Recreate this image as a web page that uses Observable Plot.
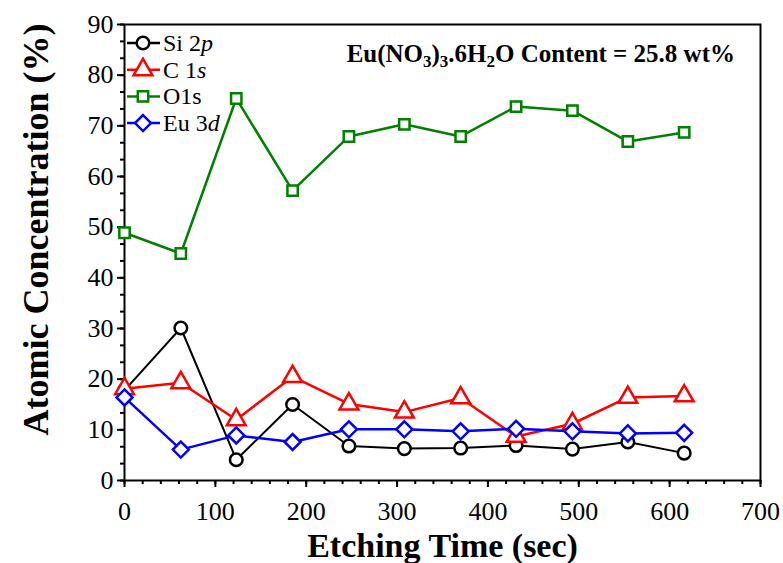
<!DOCTYPE html>
<html>
<head>
<meta charset="utf-8">
<script src="https://cdn.jsdelivr.net/npm/d3@7"></script>
<script src="https://cdn.jsdelivr.net/npm/@observablehq/plot@0.6"></script>
<style>
  html, body { margin: 0; padding: 0; background: #fff; }
  #chart svg, #chart svg text, #chart svg tspan { font-family: "Liberation Serif", "Times New Roman", serif !important; }
</style>
</head>
<body>
<div id="chart"></div>
<script>
// ---- data ----
const times = [0, 62, 123, 185, 247, 308, 370, 431, 493, 554, 616];
const si2p  = [17.8, 30.1, 4.1, 15.0, 6.8, 6.3, 6.4, 6.9, 6.2, 7.6, 5.4];
const c1s   = [18.1, 19.3, 12.0, 20.5, 15.1, 13.5, 16.3, 8.7, 11.2, 16.4, 16.7];
const o1s   = [48.9, 44.8, 75.4, 57.2, 67.9, 70.3, 67.9, 73.8, 73.0, 66.9, 68.7];
const eu3d  = [16.4, 6.1, 8.9, 7.6, 10.1, 10.1, 9.7, 10.2, 9.7, 9.3, 9.4];

const seriesNames  = ["Si 2p", "C 1s", "O1s", "Eu 3d"];
const seriesLabel  = [["Si 2", "p"], ["C 1", "s"], ["O1s", ""], ["Eu 3", "d"]];
const seriesColors = ["#000000", "#ff0000", "#008000", "#0000ff"];
const seriesSymbols = ["circle", "triangle", "square2", "diamond2"];
const seriesR = [6.3, 7.0, 6.6, 7.2];
const seriesValues = [si2p, c1s, o1s, eu3d];

const xMajor = [0, 100, 200, 300, 400, 500, 600, 700];
const yMajor = [0, 10, 20, 30, 40, 50, 60, 70, 80, 90];
const xMinor = d3.range(0, 700.1, 20);
const yMinor = d3.range(0, 90.01, 10 / 3);

const xTitle = "Etching Time (sec)";
const yTitle = "Atomic Concentration (%)";

const rows = [];
seriesNames.forEach((name, i) => {
  times.forEach((t, j) => rows.push({series: name, time: t, value: seriesValues[i][j]}));
});

const marks = [];
seriesNames.forEach((name, i) => {
  const d = rows.filter(r => r.series === name);
  marks.push(Plot.line(d, {x: "time", y: "value", stroke: seriesColors[i], strokeWidth: i === 0 ? 2 : 2.5}));
  marks.push(Plot.dot(d, {x: "time", y: "value", stroke: seriesColors[i], fill: "white",
    strokeWidth: 2.5, symbol: () => seriesSymbols[i], r: seriesR[i]}));
});

const chart = Plot.plot({
  width: 783,
  height: 563,
  marginLeft: 124,
  marginRight: 23,
  marginTop: 24,
  marginBottom: 83,
  style: {background: "white", fontFamily: "Liberation Serif"},
  x: {domain: [0, 700]},
  y: {domain: [0, 90]},
  marks: [
    Plot.axisX({ticks: xMinor, tickSize: 4, strokeWidth: 2, tickFormat: () => "", label: null}),
    Plot.axisX({ticks: xMajor, tickSize: 7, strokeWidth: 2, tickPadding: 14, fontSize: 26, tickFormat: d => String(d), label: null, fill: "black"}),
    Plot.axisY({ticks: yMinor, tickSize: 4, strokeWidth: 2, tickFormat: () => "", label: null}),
    Plot.axisY({ticks: yMajor, tickSize: 7, strokeWidth: 2, tickPadding: 4, fontSize: 26, tickFormat: d => String(d), label: null, fill: "black"}),
    Plot.frame({stroke: "black", strokeWidth: 2}),
    ...marks,
    Plot.text([xTitle], {frameAnchor: "bottom", dy: 66, lineAnchor: "middle", fontSize: 34, fontWeight: "bold", fill: "black", textAnchor: "middle"}),
    Plot.text([yTitle], {frameAnchor: "left", rotate: -90, dx: -88, dy: -23, lineAnchor: "middle", fontSize: 36, fontWeight: "bold", fill: "black", textAnchor: "middle"})
  ]
});
document.getElementById("chart").appendChild(chart);

// ---- legend and annotation (inside the plot area) ----
const svg = d3.select(chart);
const sx = chart.scale("x"), sy = chart.scale("y");
const leftPx = sx.apply(0), topPx = sy.apply(90);
const symMap = {circle: d3.symbolCircle, triangle: d3.symbolTriangle, square2: d3.symbolSquare2, diamond2: d3.symbolDiamond2};
const leg = svg.append("g").attr("text-anchor", "start");
seriesNames.forEach((name, i) => {
  const yy = topPx + 19 + i * 26.7;
  const g = leg.append("g");
  g.append("line").attr("x1", leftPx + 3).attr("x2", leftPx + 36).attr("y1", yy).attr("y2", yy)
    .attr("stroke", seriesColors[i]).attr("stroke-width", 2.5);
  const r = seriesR[i];
  g.append("path").attr("transform", `translate(${leftPx + 19},${yy})`)
    .attr("d", d3.symbol(symMap[seriesSymbols[i]], Math.PI * r * r)())
    .attr("fill", "white").attr("stroke", seriesColors[i]).attr("stroke-width", 2.5);
  const t = g.append("text").attr("x", leftPx + 39).attr("y", yy + 8)
    .attr("text-anchor", "start").attr("font-size", 24).attr("fill", "black");
  t.append("tspan").text(seriesLabel[i][0]);
  if (seriesLabel[i][1]) t.append("tspan").attr("font-style", "italic").text(seriesLabel[i][1]);
});

const ann = svg.append("text").attr("x", sx.apply(700) - 25).attr("y", topPx + 38)
  .attr("text-anchor", "end").attr("font-size", 25).attr("font-weight", "bold").attr("fill", "black");
const parts = [["Eu(NO", 0], ["3", 1], [")", 0], ["3", 1], [".6H", 0], ["2", 1], ["O Content = 25.8 wt%", 0]];
parts.forEach(([s, sub]) => {
  const ts = ann.append("tspan").text(s);
  if (sub) ts.attr("font-size", 17).attr("baseline-shift", "-30%");
});
</script>
</body>
</html>
